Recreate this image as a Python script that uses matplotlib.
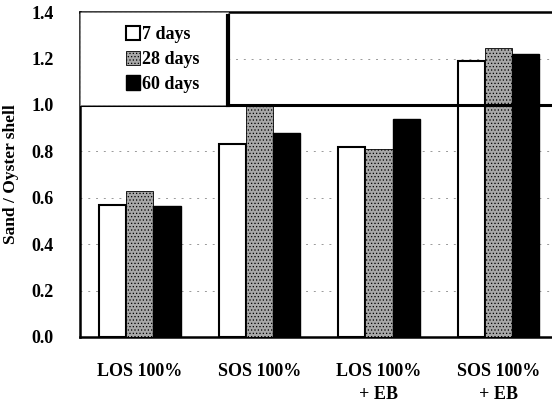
import numpy as np
import matplotlib
matplotlib.use("Agg")
import matplotlib.pyplot as plt
from matplotlib.patches import Rectangle

plt.rcParams['font.family'] = ['Liberation Serif', 'DejaVu Serif']
plt.rcParams['font.weight'] = 'bold'
plt.rcParams['hatch.color'] = '#666666'
plt.rcParams['hatch.linewidth'] = 0.5

groups = ['LOS 100%', 'SOS 100%', 'LOS 100%\n+ EB', 'SOS 100%\n+ EB']
series = ['7 days', '28 days', '60 days']
d7 = [0.57, 0.83, 0.82, 1.19]
d28 = [0.63, 1.00, 0.81, 1.245]
d60 = [0.565, 0.88, 0.94, 1.22]

fig = plt.figure(figsize=(5.52, 4.05), dpi=100)
ax = fig.add_axes([0.145, 0.168, 0.86, 0.802])

x = np.arange(len(groups))
w = 0.227
ax.bar(x - w, d7, w, color='white', edgecolor='black', linewidth=1.5, label=series[0], zorder=3)
ax.bar(x, d28, w, color='#a8a8a8', edgecolor='black', linewidth=0.6, hatch='.....', label=series[1], zorder=3)
ax.bar(x + w, d60, w, color='black', edgecolor='black', label=series[2], zorder=3)

ax.axhline(1.0, color='black', linewidth=2.2, zorder=4)
ax.set_ylim(0, 1.4)
ax.set_xlim(-0.5, 3.47)
ax.set_yticks(np.arange(0, 1.41, 0.2))
ax.set_yticklabels(['%.1f' % v for v in np.arange(0, 1.41, 0.2)], fontsize=13, fontweight='bold')
ax.set_xticks(x)
ax.set_xticklabels(groups, fontsize=13, fontweight='bold', linespacing=1.4)
ax.tick_params(axis='both', length=0)
ax.tick_params(axis='x', pad=19)
ax.tick_params(axis='y', pad=19)
ax.yaxis.grid(True, linestyle=(0, (2, 6)), color='#999999', linewidth=0.7, zorder=0)
ax.set_ylabel('Sand / Oyster shell', fontsize=12.5, fontweight='bold')
ax.yaxis.set_label_coords(-0.128, 0.5)

for s in ['left', 'bottom', 'top']:
    ax.spines[s].set_linewidth(1.8)
ax.spines['right'].set_visible(False)

# legend box with dark shadow edge on the right
ax.add_patch(Rectangle((-0.5, 1.0), 1.24, 0.4, facecolor='white', edgecolor='#888888',
                       linewidth=0.6, linestyle=(0, (3, 3)), zorder=5))
ax.plot([0.74, 0.74], [1.0, 1.385], color='black', linewidth=3, zorder=6)
leg = ax.legend(loc='center', frameon=False,
                handlelength=0.75, handleheight=0.85, handletextpad=0.15,
                labelspacing=0.4, bbox_to_anchor=(0.175, 0.855),
                prop={'weight': 'bold', 'size': 13})
leg.set_zorder(7)

fig.savefig('out.png', dpi=100)
